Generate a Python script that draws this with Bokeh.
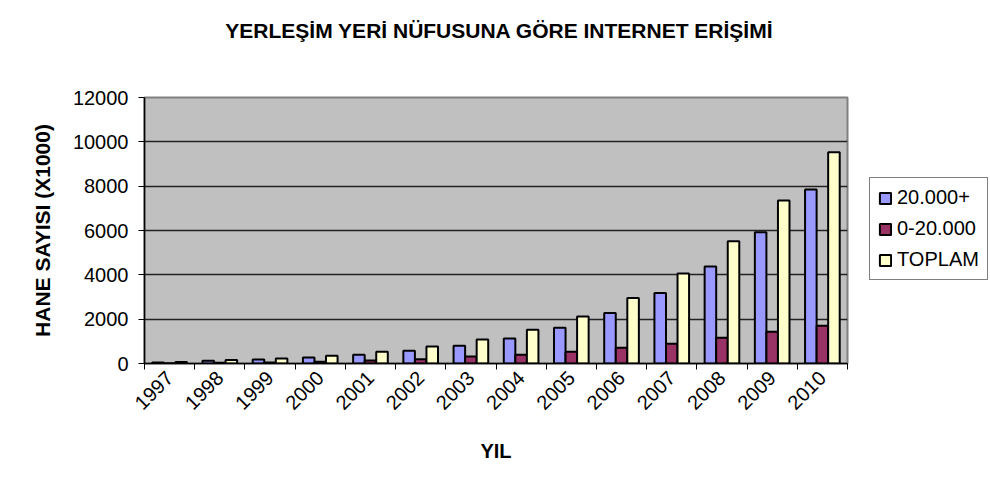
import math
from bokeh.plotting import figure
from bokeh.layouts import column, row
from bokeh.models import (ColumnDataSource, Range1d, FixedTicker, SingleIntervalTicker,
                          Legend, LegendItem, Label)
from bokeh.transform import dodge
from bokeh.embed import file_html
from bokeh.resources import INLINE

# ---- data ----
years = [1997, 1998, 1999, 2000, 2001, 2002, 2003, 2004, 2005, 2006, 2007, 2008, 2009, 2010]
pop_20000_plus = [50, 120, 180, 270, 400, 573, 800, 1129, 1612, 2276, 3180, 4381, 5917, 7845]
pop_0_20000 = [15, 35, 50, 80, 130, 195, 316, 393, 528, 709, 890, 1161, 1432, 1703]
toplam = [65, 155, 230, 350, 530, 770, 1084, 1522, 2123, 2954, 4065, 5511, 7349, 9530]
series_names = ["20.000+", "0-20.000", "TOPLAM"]
series_colors = ["#9999ff", "#993366", "#ffffcc"]
y_ticks_step = 2000
title_text = "YERLEŞİM YERİ NÜFUSUNA GÖRE INTERNET ERİŞİMİ"

FONT = "Liberation Sans"
W, H = 990, 501
TITLE_H = 85
LEG_W = 124
FRAME_TOP, FRAME_BOTTOM, FRAME_RIGHT = 97, 363, 847

# ---------- title strip ----------
tfig = figure(width=W, height=TITLE_H, output_backend="svg", toolbar_location=None,
              x_range=Range1d(0, W), y_range=Range1d(0, TITLE_H),
              x_axis_type=None, y_axis_type=None, title_location=None,
              min_border=0, min_border_left=0, min_border_right=0,
              min_border_top=0, min_border_bottom=0)
tfig.outline_line_color = None
tfig.grid.grid_line_color = None
tfig.background_fill_color = "white"
tfig.border_fill_color = "white"
tfig.add_layout(Label(x=499, y=TITLE_H - 30, text=title_text, text_align="center",
                      text_baseline="middle", text_font=FONT, text_font_size="21px",
                      text_font_style="bold", text_color="black"))

# ---------- main chart ----------
idx = list(range(len(years)))
src = ColumnDataSource(dict(x=idx, a=pop_20000_plus, b=pop_0_20000, c=toplam))

PH = H - TITLE_H
p = figure(width=W - LEG_W, height=PH, output_backend="svg", toolbar_location=None,
           x_range=Range1d(-0.5, len(years) - 0.5), y_range=Range1d(0, 12000),
           title_location=None,
           min_border_left=144, min_border_right=W - LEG_W - FRAME_RIGHT,
           min_border_top=FRAME_TOP - TITLE_H, min_border_bottom=PH - (FRAME_BOTTOM - TITLE_H))
p.background_fill_color = "#c0c0c0"
p.border_fill_color = "white"
p.outline_line_color = "#808080"
p.outline_line_width = 2

bw = 0.23
r1 = p.vbar(x=dodge("x", -bw, range=p.x_range), top="a", width=bw, source=src,
            fill_color=series_colors[0], line_color="black", line_width=2)
r2 = p.vbar(x=dodge("x", 0, range=p.x_range), top="b", width=bw, source=src,
            fill_color=series_colors[1], line_color="black", line_width=2)
r3 = p.vbar(x=dodge("x", bw, range=p.x_range), top="c", width=bw, source=src,
            fill_color=series_colors[2], line_color="black", line_width=2)

# x axis
xa = p.xaxis[0]
xa.ticker = FixedTicker(ticks=idx, minor_ticks=[i - 0.5 for i in range(len(years) + 1)])
xa.major_label_overrides = {i: str(y) for i, y in zip(idx, years)}
xa.major_label_orientation = math.pi / 4
xa.major_tick_line_color = None
xa.major_tick_out = 0
xa.major_tick_in = 0
xa.minor_tick_line_color = "black"
xa.minor_tick_out = 6
xa.minor_tick_in = 0
xa.major_label_standoff = 5
xa.major_label_text_font = FONT
xa.major_label_text_font_size = "20px"
xa.major_label_text_color = "black"
xa.axis_line_color = "black"
xa.axis_line_width = 1.5
xa.axis_label = "YIL"
xa.axis_label_text_font = FONT
xa.axis_label_text_font_size = "20px"
xa.axis_label_text_font_style = "bold"
xa.axis_label_text_color = "black"
xa.axis_label_standoff = 21

# y axis
ya = p.yaxis[0]
ya.ticker = SingleIntervalTicker(interval=y_ticks_step)
ya.minor_tick_line_color = None
ya.major_tick_out = 6
ya.major_tick_in = 0
ya.major_tick_line_color = "black"
ya.major_label_standoff = 10
ya.major_label_text_font = FONT
ya.major_label_text_font_size = "20px"
ya.major_label_text_color = "black"
ya.axis_line_color = "black"
ya.axis_line_width = 1.5
ya.axis_label = "HANE SAYISI (X1000)"
ya.axis_label_text_font = FONT
ya.axis_label_text_font_size = "21px"
ya.axis_label_text_font_style = "bold"
ya.axis_label_text_color = "black"
ya.axis_label_standoff = 16

p.xgrid.grid_line_color = None
p.ygrid.ticker = SingleIntervalTicker(interval=y_ticks_step)
p.ygrid.grid_line_color = "#222222"
p.ygrid.grid_line_width = 1.5

# ---------- legend strip ----------
lfig = figure(width=LEG_W, height=PH, output_backend="svg", toolbar_location=None,
              x_range=Range1d(0, 1), y_range=Range1d(0, 1),
              x_axis_type=None, y_axis_type=None, title_location=None,
              min_border=0, min_border_left=0, min_border_right=0,
              min_border_top=0, min_border_bottom=0)
lfig.outline_line_color = None
lfig.grid.grid_line_color = None
lfig.background_fill_color = "white"
lfig.border_fill_color = "white"
items = []
for name, col in zip(series_names, series_colors):
    # hidden proxy glyph, only used to draw the legend swatch
    rr = lfig.vbar(x=[0], top=[0], width=0.2, fill_color=col, line_color="black",
                   line_width=2, visible=False)
    items.append(LegendItem(label=name, renderers=[rr]))
legend = Legend(items=items, location=(3, 83), orientation="vertical",
                border_line_color="black", border_line_width=1,
                background_fill_color="white", background_fill_alpha=1,
                inactive_fill_alpha=0,
                label_text_font=FONT, label_text_font_size="20px", label_text_color="black",
                glyph_width=14, glyph_height=14, label_standoff=5,
                padding=8, spacing=8, margin=0)
lfig.add_layout(legend, "center")

layout = column(tfig, row(p, lfig, spacing=0), spacing=0)

open("out.html", "w").write(file_html(layout, INLINE))
